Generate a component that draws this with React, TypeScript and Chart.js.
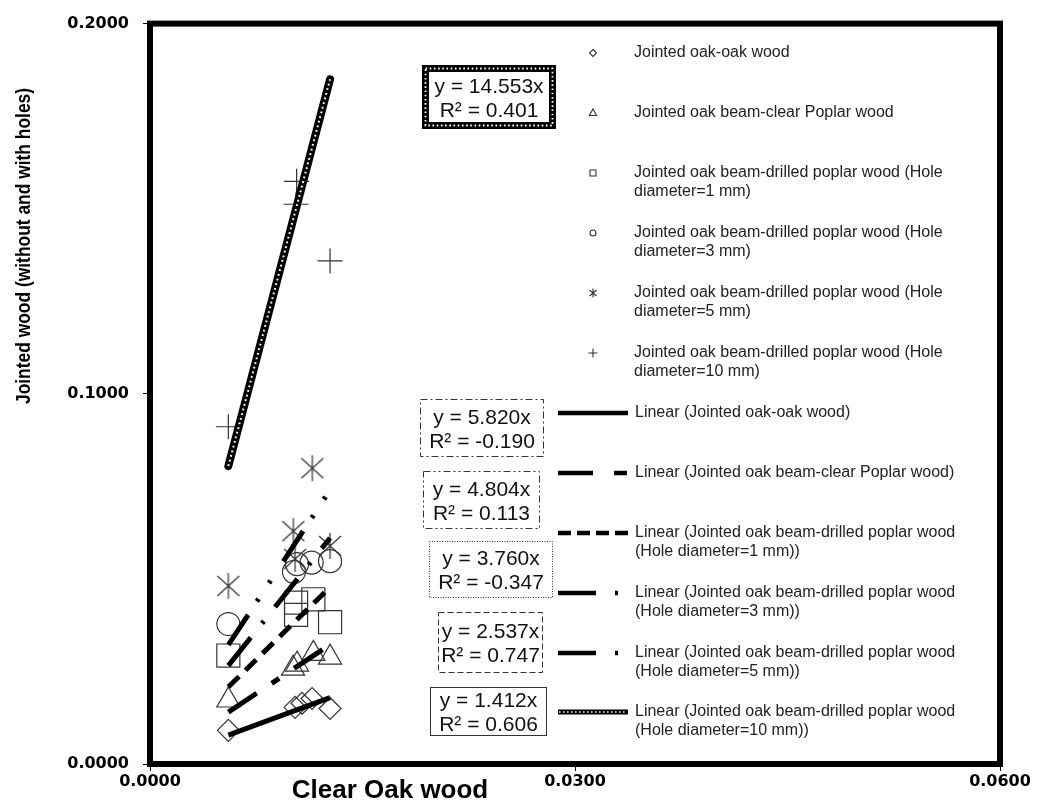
import React, { useEffect, useRef } from 'react';
import { Chart, registerables } from 'chart.js';

Chart.register(...registerables);

// ---------------- data ----------------
const seriesNames = [
  'Jointed oak-oak wood',
  'Jointed oak beam-clear Poplar wood',
  'Jointed oak beam-drilled poplar wood (Hole diameter=1 mm)',
  'Jointed oak beam-drilled poplar wood (Hole diameter=3 mm)',
  'Jointed oak beam-drilled poplar wood (Hole diameter=5 mm)',
  'Jointed oak beam-drilled poplar wood (Hole diameter=10 mm)',
];

const oakOakX = [0.00553, 0.01024, 0.01073, 0.01144, 0.01271];
const oakOakY = [0.0091, 0.0153, 0.0164, 0.0177, 0.015];
const poplarX = [0.00553, 0.0101, 0.01038, 0.01153, 0.01271];
const poplarY = [0.0172, 0.0258, 0.0269, 0.0298, 0.0288];
const hole1X = [0.00553, 0.01031, 0.01031, 0.01153, 0.01271];
const hole1Y = [0.0293, 0.0436, 0.0403, 0.0445, 0.0383];
const hole3X = [0.00553, 0.01016, 0.01038, 0.01141, 0.01271];
const hole3Y = [0.0378, 0.0519, 0.054, 0.0544, 0.0548];
const hole5X = [0.00553, 0.01012, 0.01024, 0.01146, 0.01271];
const hole5Y = [0.0481, 0.0629, 0.0554, 0.0799, 0.0589];
const hole10X = [0.00553, 0.01031, 0.01035, 0.01271];
const hole10Y = [0.0911, 0.1512, 0.1574, 0.1359];

const trendSlopes = [1.412, 2.537, 3.76, 4.804, 5.82, 14.553];
const trendR2 = ['0.606', '0.747', '-0.347', '0.113', '-0.190', '0.401'];

const xTicks = [0, 0.03, 0.06];
const yTicks = [0, 0.1, 0.2];

const xTitle = 'Clear Oak wood';
const yTitle = 'Jointed wood (without and with holes)';

const markerLegendLines = [
  ['Jointed oak-oak wood'],
  ['Jointed oak beam-clear Poplar wood'],
  ['Jointed oak beam-drilled poplar wood (Hole', 'diameter=1 mm)'],
  ['Jointed oak beam-drilled poplar wood (Hole', 'diameter=3 mm)'],
  ['Jointed oak beam-drilled poplar wood (Hole', 'diameter=5 mm)'],
  ['Jointed oak beam-drilled poplar wood (Hole', 'diameter=10 mm)'],
];
const trendLegendLines = [
  ['Linear (Jointed oak-oak wood)'],
  ['Linear (Jointed oak beam-clear Poplar wood)'],
  ['Linear (Jointed oak beam-drilled poplar wood', '(Hole diameter=1 mm))'],
  ['Linear (Jointed oak beam-drilled poplar wood', '(Hole diameter=3 mm))'],
  ['Linear (Jointed oak beam-drilled poplar wood', '(Hole diameter=5 mm))'],
  ['Linear (Jointed oak beam-drilled poplar wood', '(Hole diameter=10 mm))'],
];

const seriesX = [oakOakX, poplarX, hole1X, hole3X, hole5X, hole10X];
const seriesY = [oakOakY, poplarY, hole1Y, hole3Y, hole5Y, hole10Y];

// ---------------- styles ----------------
const MARK = '#333333';
const trendDash: number[][] = [
  [],
  [34, 18, 9, 18],
  [15, 9],
  [36, 18, 3, 18],
  [36, 16, 3, 19, 3, 23],
  [],
];
const legendDash: number[][] = [
  [],
  [35, 21, 13, 100],
  [13, 6],
  [38, 19, 3, 100],
  [38, 19, 3, 100],
  [],
];

// equation box layout: [x1, y1, x2, y2] and border style
const boxLayout: { r: number[]; s: string }[] = [
  { r: [430, 687, 547, 736], s: 'solid' },
  { r: [438, 612, 543, 673], s: 'dash' },
  { r: [429, 541, 553, 598], s: 'dot' },
  { r: [423, 471, 540, 529], s: 'dashdotdot' },
  { r: [420, 399, 544, 457], s: 'dashdot' },
  { r: [422, 65, 556, 129], s: 'thick' },
];

function drawMini(ctx: CanvasRenderingContext2D, kind: number, x: number, y: number) {
  ctx.beginPath();
  if (kind === 0) {
    ctx.moveTo(x, y - 3.5); ctx.lineTo(x + 3.5, y); ctx.lineTo(x, y + 3.5); ctx.lineTo(x - 3.5, y); ctx.closePath();
  } else if (kind === 1) {
    ctx.moveTo(x, y - 4); ctx.lineTo(x + 3.6, y + 2.5); ctx.lineTo(x - 3.6, y + 2.5); ctx.closePath();
  } else if (kind === 2) {
    ctx.rect(x - 3, y - 3, 6, 6);
  } else if (kind === 3) {
    ctx.arc(x, y, 3, 0, Math.PI * 2);
  } else if (kind === 4) {
    ctx.moveTo(x, y - 4.5); ctx.lineTo(x, y + 4.5);
    ctx.moveTo(x - 3.5, y - 3); ctx.lineTo(x + 3.5, y + 3);
    ctx.moveTo(x - 3.5, y + 3); ctx.lineTo(x + 3.5, y - 3);
  } else {
    ctx.moveTo(x - 4.5, y); ctx.lineTo(x + 4.5, y);
    ctx.moveTo(x, y - 4.5); ctx.lineTo(x, y + 4.5);
  }
  ctx.stroke();
}

const decorPlugin = {
  id: 'decor',
  afterDraw(chart: any) {
    const ctx: CanvasRenderingContext2D = chart.ctx;
    const a = chart.chartArea;
    ctx.save();

    // thick frame
    ctx.setLineDash([]);
    ctx.strokeStyle = '#000';
    ctx.lineWidth = 6;
    ctx.strokeRect(a.left, a.top, a.right - a.left, a.bottom - a.top);

    // axis titles
    ctx.fillStyle = '#000';
    ctx.textAlign = 'center';
    ctx.textBaseline = 'middle';
    ctx.font = 'bold 26px "Liberation Sans", Arial, sans-serif';
    ctx.fillText(xTitle, 390, 791);
    ctx.save();
    ctx.translate(24, 246);
    ctx.rotate(-Math.PI / 2);
    ctx.scale(0.87, 1);
    ctx.font = 'bold 20px "Liberation Sans", Arial, sans-serif';
    ctx.fillText(yTitle, 0, 0);
    ctx.restore();

    // legend - marker entries
    ctx.font = '16px "Liberation Sans", Arial, sans-serif';
    ctx.textAlign = 'left';
    const markerY = [53, 113, 173, 233, 293, 353];
    for (let i = 0; i < 6; i++) {
      ctx.strokeStyle = MARK;
      ctx.lineWidth = 1.1;
      ctx.setLineDash([]);
      drawMini(ctx, i, 593, markerY[i]);
      ctx.fillStyle = '#222';
      markerLegendLines[i].forEach((t, k) => ctx.fillText(t, 634, markerY[i] + k * 19));
    }

    // legend - trend entries
    const trendY = [413, 473, 533, 593, 653, 712];
    for (let i = 0; i < 6; i++) {
      const y = trendY[i];
      ctx.strokeStyle = '#000';
      ctx.lineCap = 'butt';
      ctx.lineWidth = i === 5 ? 5 : 4.5;
      ctx.setLineDash(legendDash[i]);
      ctx.beginPath(); ctx.moveTo(558, y); ctx.lineTo(628, y); ctx.stroke();
      if (i === 5) {
        ctx.strokeStyle = '#fff';
        ctx.lineWidth = 1.5;
        ctx.setLineDash([1.5, 2.5]);
        ctx.beginPath(); ctx.moveTo(559, y); ctx.lineTo(627, y); ctx.stroke();
      }
      ctx.setLineDash([]);
      ctx.fillStyle = '#222';
      trendLegendLines[i].forEach((t, k) => ctx.fillText(t, 635, y + k * 18.5));
    }

    // equation boxes
    ctx.textAlign = 'center';
    ctx.font = '21px "Liberation Sans", Arial, sans-serif';
    for (let i = 0; i < 6; i++) {
      const [x1, y1, x2, y2] = boxLayout[i].r;
      const s = boxLayout[i].s;
      ctx.fillStyle = '#fff';
      ctx.fillRect(x1, y1, x2 - x1, y2 - y1);
      ctx.strokeStyle = '#333';
      ctx.lineWidth = 1;
      if (s === 'thick') {
        ctx.setLineDash([]);
        ctx.strokeStyle = '#000';
        ctx.lineWidth = 7;
        ctx.strokeRect(x1 + 3.5, y1 + 3.5, x2 - x1 - 7, y2 - y1 - 7);
        ctx.strokeStyle = '#fff';
        ctx.lineWidth = 1.8;
        ctx.setLineDash([1.6, 2.6]);
        ctx.strokeRect(x1 + 3.5, y1 + 3.5, x2 - x1 - 7, y2 - y1 - 7);
      } else {
        const d =
          s === 'solid' ? [] :
          s === 'dash' ? [6, 3] :
          s === 'dot' ? [1, 1.5] :
          s === 'dashdot' ? [7, 3, 2, 3] : [7, 3, 2, 3, 2, 3];
        ctx.setLineDash(d);
        ctx.strokeStyle = '#333';
        ctx.strokeRect(x1 + 0.5, y1 + 0.5, x2 - x1 - 1, y2 - y1 - 1);
      }
      ctx.setLineDash([]);
      ctx.fillStyle = '#111';
      const cx = (x1 + x2) / 2;
      const cy = (y1 + y2) / 2 + 2;
      ctx.fillText('y = ' + trendSlopes[i].toFixed(3) + 'x', cx, cy - 12);
      ctx.fillText('R² = ' + trendR2[i], cx, cy + 12);
    }

    ctx.restore();
  },
};

export default function App() {
  const ref = useRef<HTMLCanvasElement | null>(null);

  useEffect(() => {
    const canvas = ref.current;
    if (!canvas) return;

    // asterisk marker image
    const ast = document.createElement('canvas');
    ast.width = 26;
    ast.height = 28;
    const c = ast.getContext('2d')!;
    c.strokeStyle = MARK;
    c.lineWidth = 1.2;
    c.beginPath();
    c.moveTo(13, 1); c.lineTo(13, 27);
    c.moveTo(2, 4); c.lineTo(24, 24);
    c.moveTo(2, 24); c.lineTo(24, 4);
    c.stroke();

    const pointStyles: any[] = ['rectRot', 'triangle', 'rect', 'circle', ast, 'cross'];
    const pointRadii = [11, 13.3, 16.3, 11.5, 12, 12.5];

    const datasets: any[] = [];
    for (let i = 0; i < 6; i++) {
      datasets.push({
        label: seriesNames[i],
        data: seriesX[i].map((x, k) => ({ x, y: seriesY[i][k] })),
        showLine: false,
        pointStyle: pointStyles[i],
        pointRadius: pointRadii[i],
        pointBorderColor: MARK,
        pointBackgroundColor: 'rgba(0,0,0,0)',
        pointBorderWidth: 1.2,
        borderColor: MARK,
        backgroundColor: 'rgba(0,0,0,0)',
        order: 2,
      });
    }
    for (let i = 0; i < 6; i++) {
      const xs = seriesX[i];
      const x0 = Math.min(...xs);
      const x1 = Math.max(...xs);
      const pts = [
        { x: x0, y: trendSlopes[i] * x0 },
        { x: x1, y: trendSlopes[i] * x1 },
      ];
      datasets.push({
        label: 'Linear (' + seriesNames[i] + ')',
        data: pts,
        showLine: true,
        pointRadius: 0,
        borderColor: '#000',
        borderWidth: i === 5 ? 8 : 5,
        borderDash: trendDash[i],
        borderCapStyle: i === 5 ? 'round' : 'butt',
        order: 1,
      });
      if (i === 5) {
        datasets.push({
          label: 'dots',
          data: pts,
          showLine: true,
          pointRadius: 0,
          borderColor: '#fff',
          borderWidth: 2,
          borderDash: [1.8, 3],
          borderCapStyle: 'butt',
          order: 0,
        });
      }
    }

    const tickFont = { family: '"DejaVu Sans", Verdana, sans-serif', size: 16, weight: 'bold' as const };

    const chart = new Chart(canvas, {
      type: 'scatter',
      data: { datasets },
      options: {
        animation: false,
        responsive: false,
        events: [],
        layout: { padding: { top: 20, right: 37, left: 0, bottom: 0 } },
        plugins: { legend: { display: false }, tooltip: { enabled: false } },
        scales: {
          x: {
            type: 'linear',
            min: 0,
            max: 0.06,
            afterBuildTicks: (s: any) => { s.ticks = xTicks.map((v) => ({ value: v })); },
            afterFit: (s: any) => { s.height = 39; },
            grid: { display: true, drawOnChartArea: false, drawTicks: true, tickLength: 7, color: '#000', lineWidth: 1 },
            border: { display: false },
            ticks: { font: tickFont, color: '#000', padding: 1, maxRotation: 0, autoSkip: false, callback: (v: any) => Number(v).toFixed(4) },
          },
          y: {
            type: 'linear',
            min: 0,
            max: 0.2,
            afterBuildTicks: (s: any) => { s.ticks = yTicks.map((v) => ({ value: v })); },
            afterFit: (s: any) => { s.width = 150; },
            grid: { display: true, drawOnChartArea: false, drawTicks: true, tickLength: 7, color: '#000', lineWidth: 1 },
            border: { display: false },
            ticks: { font: tickFont, color: '#000', padding: 14, autoSkip: false, callback: (v: any) => Number(v).toFixed(4) },
          },
        },
      },
      plugins: [decorPlugin],
    });

    return () => chart.destroy();
  }, []);

  return (
    <div style={{ position: 'fixed', left: 0, top: 0, width: 1037, height: 803, background: '#fff' }}>
      <canvas ref={ref} width={1037} height={803} style={{ display: 'block', width: 1037, height: 803 }} />
    </div>
  );
}
